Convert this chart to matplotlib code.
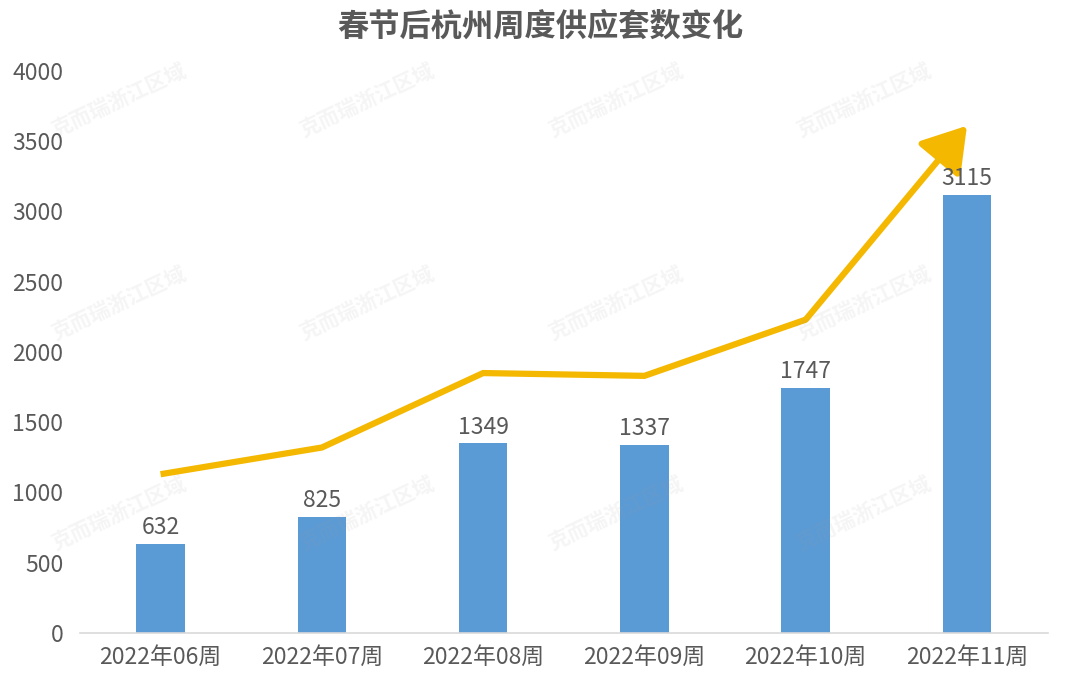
import numpy as np
import matplotlib.pyplot as plt

plt.rcParams['font.family'] = ['Noto Sans CJK SC', 'DejaVu Sans']

# 数据
weeks = ['2022年06周', '2022年07周', '2022年08周', '2022年09周', '2022年10周', '2022年11周']
supply = [632, 825, 1349, 1337, 1747, 3115]
# 趋势箭头 (装饰线)
trend = [1130, 1320, 1850, 1830, 2230, 3610]
yticks = [0, 500, 1000, 1500, 2000, 2500, 3000, 3500, 4000]

bar_color = '#5B9BD5'
arrow_color = '#F5B800'
text_color = '#595959'

fig = plt.figure(figsize=(10.8, 6.89), dpi=100)
ax = fig.add_axes([0.074, 0.0813, 0.896, 0.8157])

x = np.arange(len(weeks))
ax.bar(x, supply, width=0.30, color=bar_color, zorder=2)
for xi, v in zip(x, supply):
    ax.text(xi, v + 35, str(v), ha='center', va='bottom', fontsize=16.5, color=text_color, zorder=4)

# 趋势线 + 箭头
ax.plot(x[:-1], trend[:-1], color=arrow_color, lw=4.5, solid_capstyle='butt',
        solid_joinstyle='miter', zorder=3)
ax.annotate('', xy=(x[-1], trend[-1]), xytext=(x[-2], trend[-2]),
            arrowprops=dict(arrowstyle='-|>,head_length=0.95,head_width=0.6', lw=4.5,
                            color=arrow_color, mutation_scale=28, shrinkA=0, shrinkB=0),
            zorder=3)

ax.set_xlim(-0.5, len(weeks) - 0.5)
ax.set_ylim(0, 4000)
ax.set_yticks(yticks)
ax.set_xticks(x)
ax.set_xticklabels(weeks)
ax.tick_params(axis='both', length=0, labelsize=16.5, colors=text_color)
ax.tick_params(axis='y', pad=12)
ax.tick_params(axis='x', pad=9)
for s in ['top', 'right', 'left']:
    ax.spines[s].set_visible(False)
ax.spines['bottom'].set_color('#D9D9D9')
ax.spines['bottom'].set_linewidth(1.2)

fig.text(0.5, 0.962, '春节后杭州周度供应套数变化', ha='center', va='center',
         fontsize=22.5, fontweight='bold', color=text_color)

# 水印
for yy in [0.855, 0.56, 0.255]:
    for xx in [0.11, 0.34, 0.57, 0.80]:
        fig.text(xx, yy, '克而瑞浙江区域', ha='center', va='center', rotation=25,
                 fontsize=15, fontweight='bold', color='#999999', alpha=0.1, zorder=5)

fig.savefig('out.png', dpi=100)
